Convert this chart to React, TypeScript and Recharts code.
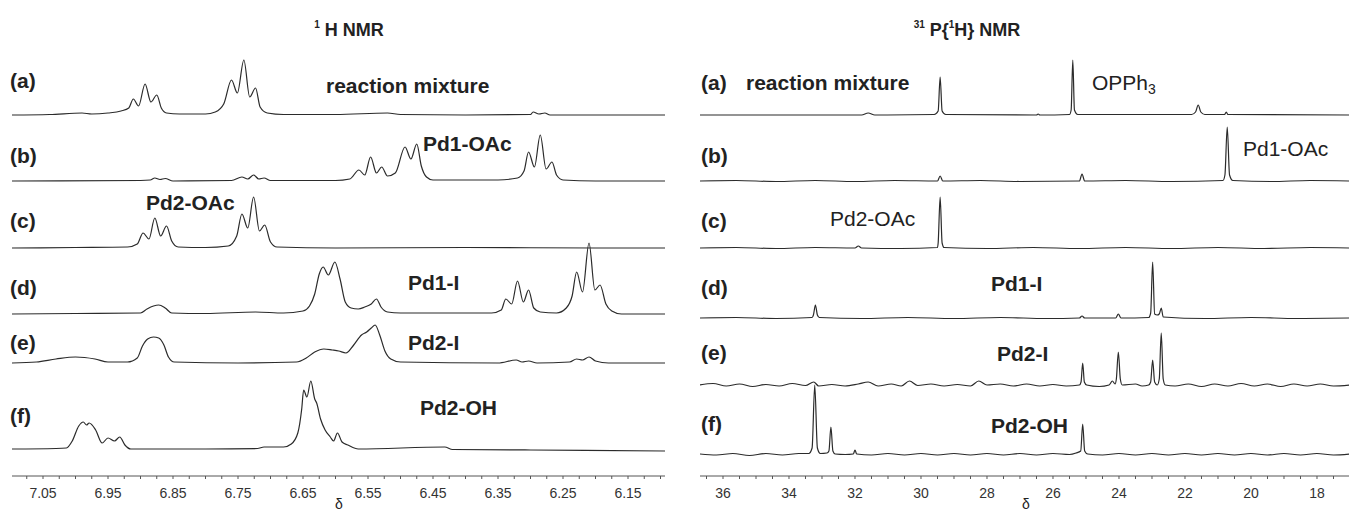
import React from "react";
import { LineChart, Line, XAxis, YAxis } from "recharts";

type Pt = [number, number];

// 1H NMR traces: [shift in ppm, height above own baseline]
const hReaction: Pt[] = [
  [7.098, 0], [7.04, 0.5], [6.99, 2], [6.975, 1], [6.95, 2], [6.93, 4], [6.918, 7], [6.911, 16],
  [6.903, 9], [6.893, 31], [6.884, 13], [6.875, 20], [6.868, 7], [6.86, 2], [6.84, 1], [6.8, 1],
  [6.785, 3], [6.772, 11], [6.76, 35], [6.751, 22], [6.741, 55], [6.732, 18], [6.723, 27],
  [6.716, 8], [6.705, 2], [6.68, 0.5], [6.6, 0.5], [6.52, 2], [6.5, 0.5], [6.4, 0], [6.3, 0.5],
  [6.296, 3], [6.287, 1], [6.278, 2], [6.27, 0], [6.093, 0],
];
const hPd1OAc: Pt[] = [
  [7.098, 0], [6.9, 0.5], [6.885, 1], [6.878, 3], [6.87, 1.5], [6.862, 2.5], [6.85, 0], [6.76, 0.5],
  [6.744, 4], [6.735, 2], [6.726, 6], [6.718, 2], [6.71, 3], [6.7, 0.5], [6.6, 0.5], [6.578, 2],
  [6.564, 11], [6.555, 6], [6.546, 24], [6.537, 8], [6.529, 14], [6.52, 5], [6.508, 8], [6.493, 34],
  [6.484, 22], [6.475, 37], [6.468, 15], [6.46, 4], [6.45, 1], [6.35, 1], [6.32, 3], [6.31, 10],
  [6.303, 29], [6.294, 14], [6.285, 46], [6.276, 12], [6.267, 19], [6.26, 6], [6.25, 1], [6.2, 0],
  [6.093, 0],
];
const hPd2OAc: Pt[] = [
  [7.098, 0], [7.0, 0.5], [6.92, 1], [6.905, 4], [6.896, 15], [6.887, 9], [6.878, 30], [6.869, 12],
  [6.86, 22], [6.852, 7], [6.842, 1], [6.8, 0.5], [6.765, 2], [6.752, 12], [6.744, 34], [6.735, 20],
  [6.726, 51], [6.717, 17], [6.709, 23], [6.7, 6], [6.69, 1], [6.6, 0], [6.4, 0.5], [6.2, 0], [6.093, 0],
];
const hPd1I: Pt[] = [
  [7.098, 0], [7.0, 0.5], [6.9, 1], [6.89, 5], [6.88, 8], [6.872, 9], [6.862, 6], [6.852, 1], [6.8, 0.5],
  [6.723, 2], [6.68, 1], [6.65, 3], [6.64, 8], [6.632, 20], [6.625, 40], [6.619, 47], [6.611, 39],
  [6.601, 52], [6.593, 35], [6.585, 12], [6.576, 6], [6.565, 5], [6.555, 7], [6.545, 10], [6.537, 15],
  [6.53, 7], [6.52, 2], [6.5, 1], [6.36, 1], [6.345, 4], [6.338, 15], [6.329, 10], [6.32, 33],
  [6.311, 12], [6.303, 24], [6.295, 6], [6.285, 2], [6.26, 1], [6.245, 6], [6.236, 18], [6.229, 42],
  [6.22, 22], [6.21, 71], [6.201, 24], [6.193, 29], [6.184, 10], [6.175, 3], [6.16, 0], [6.093, 0],
];
const hPd2I: Pt[] = [
  [7.098, 0], [7.06, 1], [7.03, 4], [7.0, 6], [6.97, 4], [6.95, 1], [6.92, 1], [6.905, 5], [6.897, 17],
  [6.889, 24], [6.88, 26], [6.872, 25], [6.864, 18], [6.857, 6], [6.848, 1], [6.75, 0], [6.66, 1],
  [6.645, 5], [6.632, 11], [6.618, 14], [6.605, 13], [6.595, 12], [6.584, 10], [6.572, 18], [6.56, 28],
  [6.552, 31], [6.545, 35], [6.539, 38], [6.532, 28], [6.524, 12], [6.515, 4], [6.5, 1], [6.35, 0],
  [6.322, 3], [6.313, 1], [6.303, 2], [6.29, 0], [6.24, 1], [6.229, 4], [6.22, 3], [6.21, 6], [6.2, 2],
  [6.18, 0], [6.093, 0],
];
const hPd2OH: Pt[] = [
  [7.098, 0], [7.03, 0.5], [7.014, 1], [7.005, 8], [6.995, 23], [6.988, 27], [6.983, 24], [6.979, 26],
  [6.969, 19], [6.959, 6], [6.95, 11], [6.94, 8], [6.932, 12], [6.924, 4], [6.915, 0], [6.8, 0],
  [6.72, 0.5], [6.71, 2], [6.68, 2], [6.668, 5], [6.658, 16], [6.652, 40], [6.649, 59], [6.644, 52],
  [6.638, 68], [6.632, 50], [6.629, 46], [6.623, 30], [6.616, 19], [6.608, 12], [6.603, 8],
  [6.597, 16], [6.59, 7], [6.581, 4], [6.565, 0], [6.432, 2], [6.42, -0.5], [6.3, -1], [6.093, -2],
];

// 31P{1H} NMR traces
const pReaction: Pt[] = [
  [36.7, 0], [31.8, 0], [31.6, 2], [31.4, 0], [29.6, 0.5], [29.48, 4], [29.42, 38], [29.36, 4],
  [29.25, 0.5], [26.5, 0], [26.45, 1], [26.4, 0], [25.5, 0.5], [25.45, 5], [25.4, 55], [25.35, 5],
  [25.25, 0.5], [21.8, 0.5], [21.68, 3], [21.6, 10], [21.52, 3], [21.4, 0.5], [20.8, 0.5],
  [20.75, 3], [20.7, 0.5], [17.0, 0],
];
const pPd1OAc: Pt[] = [
  [36.7, 0], [35.6, 0.5], [34.4, -0.5], [33.2, 0.5], [32.0, -0.5], [30.8, 0.5], [29.5, 0], [29.42, 5],
  [29.34, 0], [28.2, 0.5], [27.0, -0.5], [25.2, 0], [25.12, 7], [25.04, 0], [23.8, 0.5], [22.4, -0.5],
  [20.85, 0.5], [20.79, 6], [20.72, 54], [20.65, 6], [20.55, 0.5], [19.4, -0.5], [18.2, 0.5], [17.0, 0],
];
const pPd2OAc: Pt[] = [
  [36.7, 0], [35.6, 0.5], [34.4, -0.5], [33.2, 0.5], [32.0, 0], [31.9, 2], [31.8, 0], [30.6, -0.5],
  [29.5, 0.5], [29.48, 5], [29.42, 51], [29.36, 5], [29.3, 0.5], [28.0, -0.5], [26.6, 0.5],
  [25.2, -0.5], [23.8, 0.5], [22.4, -0.5], [21.0, 0.5], [19.6, -0.5], [18.2, 0.5], [17.0, 0],
];
const pPd1I: Pt[] = [
  [36.7, 0], [35.6, 0.5], [34.4, -0.5], [33.3, 0.5], [33.26, 3], [33.2, 13], [33.14, 3], [33.08, 0.5],
  [31.8, -0.5], [30.4, 0.5], [29.0, -0.5], [27.6, 0.5], [26.2, -0.5], [25.2, 0], [25.12, 2],
  [25.04, 0], [24.1, 0], [24.02, 4], [23.94, 0], [23.1, 0.5], [23.04, 5], [22.98, 56], [22.92, 4],
  [22.84, 3], [22.78, 4], [22.72, 10], [22.66, 1], [21.4, -0.5], [20.0, 0.5], [18.6, -0.5], [17.0, 0],
];
const pPd2I: Pt[] = [
  [36.7, 0], [36.3, 1.5], [35.9, -1], [35.5, 1], [35.1, -1.5], [34.7, 0.5], [34.3, -1], [33.9, 1.5],
  [33.5, -0.5], [33.25, 3], [33.1, -1], [32.7, 0.5], [32.3, -1], [31.9, 1], [31.6, 3], [31.3, -1],
  [30.9, 1], [30.6, -1], [30.35, 4], [30.1, -0.5], [29.7, 1], [29.3, -1], [28.9, 0.5], [28.5, -1],
  [28.25, 4], [28.0, 0], [27.6, 1], [27.2, -1], [26.8, 1], [26.4, -1], [26.0, 0.5], [25.6, -1],
  [25.2, 0], [25.15, 3], [25.1, 22], [25.05, 3], [24.98, 0], [24.6, -1.5], [24.3, 0], [24.2, 4],
  [24.12, 1], [24.08, 6], [24.02, 33], [23.96, 6], [23.9, 0], [23.5, 1], [23.3, -1], [23.1, 0],
  [23.04, 3], [22.98, 25], [22.92, 3], [22.84, 0], [22.78, 6], [22.72, 52], [22.66, 6], [22.6, 0],
  [22.3, -1], [21.9, 1], [21.5, -1.5], [21.1, 1], [20.7, -1], [20.3, 1.5], [19.9, -1], [19.5, 1],
  [19.1, -1.5], [18.7, 1], [18.3, -1], [17.9, 1], [17.5, -1], [17.0, 0],
];
const pPd2OH: Pt[] = [
  [36.7, 0], [36.2, -1], [35.7, 0.5], [35.2, -1.5], [34.7, 0.5], [34.2, -1], [33.7, 0.5], [33.4, 0.5],
  [33.3, 6], [33.22, 69], [33.14, 6], [33.05, 0.5], [32.85, 1], [32.79, 3], [32.73, 27], [32.67, 3],
  [32.6, 0], [32.3, -0.5], [32.05, 0], [32.0, 4], [31.95, 0], [31.5, -1], [31.0, 0.5], [30.5, -1],
  [30.0, 0.5], [29.5, -1], [29.0, 0.5], [28.5, -1], [28.0, 0.5], [27.5, -1], [27.0, 0.5], [26.5, -1],
  [26.0, 0.5], [25.5, -0.5], [25.3, 1], [25.16, 3], [25.1, 30], [25.04, 3], [24.95, 0], [24.5, -1],
  [24.0, 0.5], [23.5, -1], [23.0, 0.5], [22.5, -1], [22.0, 0.5], [21.5, -1], [21.0, 0.5], [20.5, -1],
  [20.0, 0.5], [19.5, -1], [19.0, 0.5], [18.5, -1], [18.0, 0.5], [17.5, -1], [17.0, 0],
];

const traceTags = ["(a)", "(b)", "(c)", "(d)", "(e)", "(f)"];
const hNames = ["reaction mixture", "Pd1-OAc", "Pd2-OAc", "Pd1-I", "Pd2-I", "Pd2-OH"];
const pNames = ["reaction mixture", "OPPh", "Pd1-OAc", "Pd2-OAc", "Pd1-I", "Pd2-I", "Pd2-OH"];
const hTickLabels = [7.05, 6.95, 6.85, 6.75, 6.65, 6.55, 6.45, 6.35, 6.25, 6.15];
const pTickLabels = [36, 34, 32, 30, 28, 26, 24, 22, 20, 18];

const FONT = "'Liberation Sans', Arial, Helvetica, sans-serif";
const INK = "#2b2b2b";
const AXIS_Y = 476;

function minorTicks(from: number, to: number, step: number) {
  const out: number[] = [];
  const n = Math.round((from - to) / step);
  for (let i = 0; i <= n; i++) out.push(+(from - i * step).toFixed(4));
  return out;
}

function Panel(props: {
  left: number;
  width: number;
  domain: [number, number];
  traces: Pt[][];
  baselines: number[];
  ticks: number[];
  labels: number[];
  digits: number;
}) {
  const { left, width, domain, traces, baselines, ticks, labels, digits } = props;
  const series = traces.map((t, i) =>
    t.map(([x, h]) => ({ x, y: AXIS_Y - baselines[i] + h }))
  );
  const Tick = (tp: any) => {
    const v = tp.payload.value;
    const lab = labels.find((l) => Math.abs(l - v) < 1e-6);
    if (lab === undefined) return null;
    return (
      <text x={tp.x} y={AXIS_Y + 22} textAnchor="middle" fontSize={14} fill="#333" fontFamily={FONT}>
        {lab.toFixed(digits)}
      </text>
    );
  };
  return (
    <div style={{ position: "absolute", left, top: 0 }}>
      <LineChart width={width} height={512} margin={{ top: 0, right: 0, bottom: 0, left: 0 }}>
        <XAxis
          type="number"
          dataKey="x"
          domain={domain}
          reversed
          allowDataOverflow
          ticks={ticks}
          interval={0}
          height={512 - AXIS_Y}
          tickSize={3}
          stroke="#555"
          tick={<Tick />}
        />
        <YAxis hide type="number" domain={[0, AXIS_Y]} allowDataOverflow />
        {series.map((d, i) => (
          <Line
            key={i}
            data={d}
            dataKey="y"
            type="monotone"
            dot={false}
            stroke={INK}
            strokeWidth={1.2}
            isAnimationActive={false}
          />
        ))}
      </LineChart>
    </div>
  );
}

function Txt(props: { x: number; cy: number; size?: number; bold?: boolean; children: React.ReactNode; center?: boolean }) {
  const size = props.size ?? 21;
  const style: React.CSSProperties = {
    position: "absolute",
    top: props.cy - size / 2,
    fontSize: size,
    lineHeight: 1,
    fontWeight: props.bold ? "bold" : "normal",
    color: "#222",
    whiteSpace: "nowrap",
  };
  if (props.center) {
    style.left = props.x - 150;
    style.width = 300;
    style.textAlign = "center";
  } else {
    style.left = props.x;
  }
  return <div style={style}>{props.children}</div>;
}

export default function App() {
  const hBase = [115, 181, 248, 314, 363, 449];
  const pBase = [115, 181, 248, 318, 385, 454];
  const hTagY = [80, 155, 220, 287, 342, 415];
  const pTagY = [82, 155, 220, 287, 352, 423];
  const sup = (s: string) => (
    <span style={{ fontSize: 10, verticalAlign: "top", position: "relative", top: -1 }}>{s}</span>
  );
  return (
    <div
      style={{
        position: "absolute",
        left: 0,
        top: 0,
        width: 1349,
        height: 512,
        background: "#fff",
        fontFamily: FONT,
        overflow: "hidden",
      }}
    >
      <Panel
        left={12}
        width={653}
        domain={[6.0931, 7.0977]}
        traces={[hReaction, hPd1OAc, hPd2OAc, hPd1I, hPd2I, hPd2OH]}
        baselines={hBase}
        ticks={minorTicks(7.075, 6.1, 0.025)}
        labels={hTickLabels}
        digits={2}
      />
      <Panel
        left={700}
        width={649}
        domain={[17.03, 36.697]}
        traces={[pReaction, pPd1OAc, pPd2OAc, pPd1I, pPd2I, pPd2OH]}
        baselines={pBase}
        ticks={minorTicks(36.5, 17.5, 0.5)}
        labels={pTickLabels}
        digits={0}
      />

      {/* titles */}
      <Txt x={349} cy={30} size={18} bold center>
        {sup("1")} H NMR
      </Txt>
      <Txt x={967} cy={30} size={18} bold center>
        {sup("31")} P{"{"}
        {sup("1")}H{"}"} NMR
      </Txt>

      {/* left panel labels */}
      {traceTags.map((t, i) => (
        <Txt key={"hl" + i} x={10} cy={hTagY[i]} bold>
          {t}
        </Txt>
      ))}
      <Txt x={326} cy={85} bold>{hNames[0]}</Txt>
      <Txt x={423} cy={143} bold>{hNames[1]}</Txt>
      <Txt x={146} cy={202} bold>{hNames[2]}</Txt>
      <Txt x={408} cy={282} bold>{hNames[3]}</Txt>
      <Txt x={408} cy={342} bold>{hNames[4]}</Txt>
      <Txt x={420} cy={407} bold>{hNames[5]}</Txt>

      {/* right panel labels */}
      {traceTags.map((t, i) => (
        <Txt key={"pl" + i} x={701} cy={pTagY[i]} bold>
          {t}
        </Txt>
      ))}
      <Txt x={746} cy={82} bold>{pNames[0]}</Txt>
      <Txt x={1092} cy={82}>
        {pNames[1]}
        <span style={{ fontSize: 14, position: "relative", top: 4 }}>3</span>
      </Txt>
      <Txt x={1243} cy={148}>{pNames[2]}</Txt>
      <Txt x={830} cy={218}>{pNames[3]}</Txt>
      <Txt x={991} cy={283} bold>{pNames[4]}</Txt>
      <Txt x={997} cy={353} bold>{pNames[5]}</Txt>
      <Txt x={991} cy={425} bold>{pNames[6]}</Txt>

      {/* axis titles */}
      <Txt x={339} cy={504} size={14} center>δ</Txt>
      <Txt x={1026} cy={504} size={14} center>δ</Txt>
    </div>
  );
}
